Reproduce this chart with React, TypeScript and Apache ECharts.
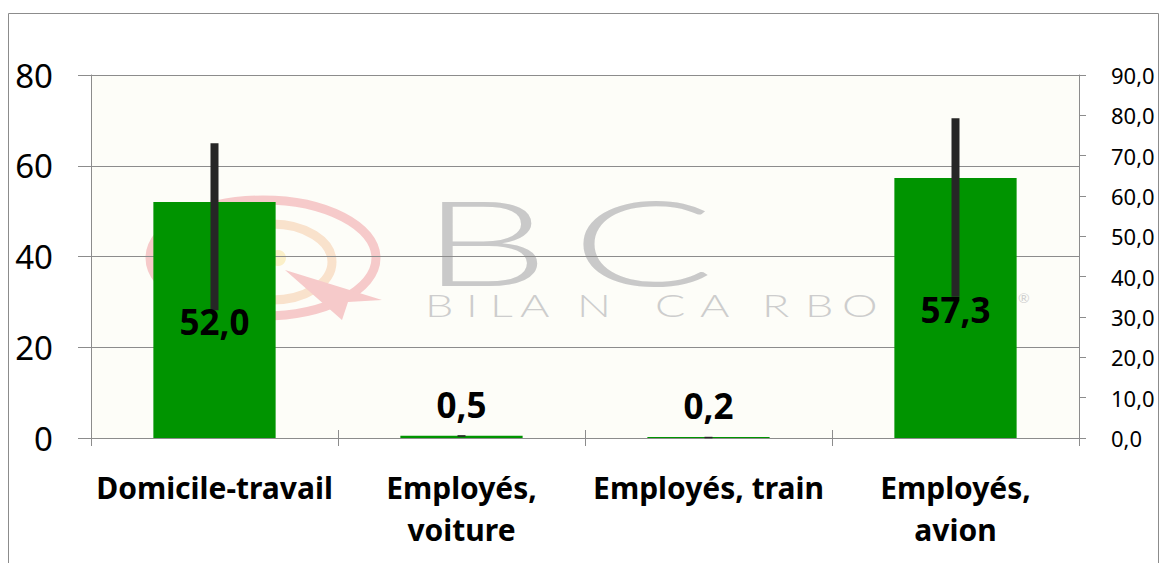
import React, { useEffect, useRef } from "react";
import * as echarts from "echarts";

const categories = ["Domicile-travail", "Employés,\nvoiture", "Employés, train", "Employés,\navion"];
const values = [52.0, 0.5, 0.2, 57.3];
const errLow = [31.7, 0.3, 0.1, 35.0];
const errHigh = [73.1, 0.7, 0.3, 79.3];
const leftTicks = { min: 0, max: 80, interval: 20 };
const rightTicks = { min: 0, max: 90, interval: 10 };
const labelOffsets = [119, null, null, 131];

const wmLetters = ["B", "I", "L", "A", "N", "C", "A", "R", "B", "O", "N", "E"];
const wmX = [425, 466, 490, 520, 577, 655, 700, 762, 805, 842, 905, 960];

const fmt = (v: number) => v.toFixed(1).replace(".", ",");

export default function App() {
  const ref = useRef<HTMLDivElement>(null);
  useEffect(() => {
    if (!ref.current) return;
    const chart = echarts.init(ref.current, null, { renderer: "svg" });
    const grey = "#8c8c8c";
    const font = "'Noto Sans', 'Open Sans', sans-serif";
    const wmFont = "Lato, 'Open Sans', sans-serif";
    const wmGraphics: any[] = [
      { type: "rect", z: -20, shape: { x: 91, y: 75, width: 988, height: 363 }, style: { fill: "#fdfdf8" } },
      { type: "ellipse", z: -10, shape: { cx: 263, cy: 258, rx: 113, ry: 58 }, style: { fill: "none", stroke: "#f6caca", lineWidth: 9 } },
      { type: "ellipse", z: -10, shape: { cx: 272, cy: 262, rx: 60, ry: 38 }, style: { fill: "none", stroke: "#f9e2cc", lineWidth: 9 } },
      { type: "circle", z: -10, shape: { cx: 278, cy: 258, r: 8 }, style: { fill: "#fbf0c8" } },
      { type: "polygon", z: -9, shape: { points: [[285, 270], [382, 300], [348, 302], [342, 320]] }, style: { fill: "#f6caca" } },
      { type: "text", z: -10, x: 421, y: 240, scaleX: 1.72, style: { text: "B", fontSize: 118, lineHeight: 86, verticalAlign: "middle", fontFamily: wmFont, fontWeight: 300, fill: "#c9c9c9" } },
      { type: "text", z: -10, x: 571, y: 240, scaleX: 1.8, style: { text: "C", fontSize: 118, lineHeight: 86, verticalAlign: "middle", fontFamily: wmFont, fontWeight: 300, fill: "#c9c9c9" } },
      { type: "text", z: -10, x: 1018, y: 290, style: { text: "®", fontSize: 14, fontFamily: wmFont, fill: "#d0d0d0" } },
    ];
    wmLetters.forEach((ch, i) => {
      wmGraphics.push({ type: "text", z: -10, x: wmX[i], y: 305, scaleX: 1.45, style: { text: ch, fontSize: 31, lineHeight: 24, verticalAlign: "middle", fontFamily: wmFont, fontWeight: 300, fill: "#cdcdcd" } });
    });
    wmGraphics.push({ type: "rect", z: 100, shape: { x: 8.5, y: 13.5, width: 1150, height: 560 }, style: { fill: "none", stroke: grey, lineWidth: 1 } });

    chart.setOption({
      animation: false,
      backgroundColor: "#ffffff",
      graphic: wmGraphics,
      grid: { left: 91, right: 82, top: 75, bottom: 125, containLabel: false },
      xAxis: [
        {
          type: "category",
          data: categories,
          position: "bottom",
          boundaryGap: true,
          axisLine: { show: true, lineStyle: { color: grey, width: 1 } },
          axisTick: { show: true, length: 8, alignWithLabel: false, lineStyle: { color: grey } },
          axisLabel: { interval: 0, fontSize: 30, fontWeight: "bold", lineHeight: 42, color: "#000", fontFamily: font, margin: 28 },
          splitLine: { show: false },
        },
        {
          type: "category",
          data: categories,
          position: "top",
          boundaryGap: true,
          axisLine: { show: true, lineStyle: { color: grey, width: 1 } },
          axisTick: { show: true, length: 8, alignWithLabel: false, lineStyle: { color: grey } },
          axisLabel: { show: false },
          splitLine: { show: false },
        },
      ],
      yAxis: [
        {
          type: "value",
          position: "left",
          min: leftTicks.min,
          max: leftTicks.max,
          interval: leftTicks.interval,
          axisLine: { show: true, lineStyle: { color: grey } },
          axisTick: { show: true, length: 13, lineStyle: { color: grey } },
          axisLabel: { fontSize: 33, color: "#000", fontFamily: font, margin: 38 },
          splitLine: { show: true, lineStyle: { color: grey, width: 1 } },
        },
        {
          type: "value",
          position: "right",
          min: rightTicks.min,
          max: rightTicks.max,
          interval: rightTicks.interval,
          axisLine: { show: true, lineStyle: { color: grey } },
          axisTick: { show: true, length: 7, lineStyle: { color: grey } },
          axisLabel: { fontSize: 22, color: "#000", fontFamily: font, margin: 32, formatter: (v: number) => fmt(v) },
          splitLine: { show: false },
        },
      ],
      series: [
        {
          type: "bar",
          name: "bars",
          xAxisIndex: 0,
          yAxisIndex: 0,
          z: 2,
          barWidth: "49.5%",
          data: values,
          itemStyle: { color: "#009400" },
        },
        {
          type: "custom",
          name: "err",
          xAxisIndex: 0,
          yAxisIndex: 1,
          z: 3,
          data: values.map((_, i) => [i, errLow[i], errHigh[i]]),
          renderItem: (params: any, api: any) => {
            const lo = api.coord([api.value(0), api.value(1)]);
            const hi = api.coord([api.value(0), api.value(2)]);
            return {
              type: "rect",
              shape: { x: lo[0] - 4, y: hi[1], width: 8, height: Math.max(lo[1] - hi[1], 1.5) },
              style: { fill: "#262626" },
            };
          },
        },
        {
          type: "bar",
          name: "labels",
          xAxisIndex: 0,
          yAxisIndex: 0,
          z: 4,
          barWidth: "49.5%",
          barGap: "-100%",
          itemStyle: { color: "rgba(0,0,0,0)" },
          data: values.map((v, i) => ({
            value: v,
            label:
              labelOffsets[i] != null
                ? { show: true, position: ["50%", labelOffsets[i]], align: "center", verticalAlign: "middle" }
                : { show: true, position: "top", distance: 14 },
          })),
          label: {
            show: true,
            fontSize: 35,
            fontWeight: "bold",
            color: "#000",
            fontFamily: font,
            formatter: (p: any) => fmt(p.value),
          },
        },
      ],
    });
    return () => chart.dispose();
  }, []);
  return <div ref={ref} style={{ position: "fixed", left: 0, top: 0, width: 1161, height: 563 }} />;
}
